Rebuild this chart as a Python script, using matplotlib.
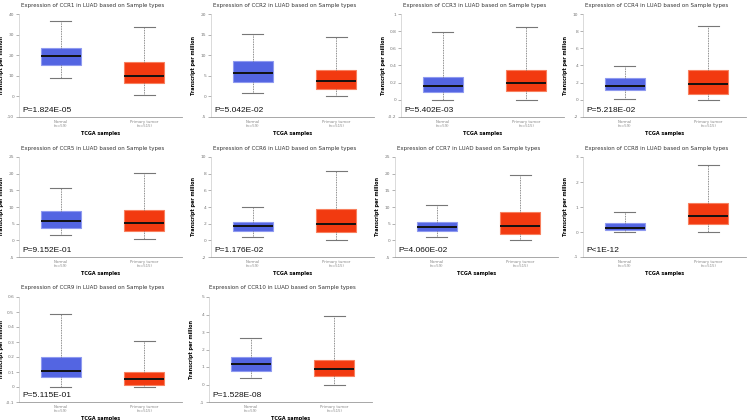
import numpy as np
import matplotlib
matplotlib.use("Agg")
import matplotlib.pyplot as plt

# ---- data (transcript per million) ----
genes = ["CCR1", "CCR2", "CCR3", "CCR4", "CCR5",
         "CCR6", "CCR7", "CCR8", "CCR9", "CCR10"]
pvals = ["P=1.824E-05", "P=5.042E-02", "P=5.402E-03", "P=5.218E-02", "P=9.152E-01",
         "P=1.176E-02", "P=4.060E-02", "P<1E-12", "P=5.115E-01", "P=1.528E-08"]

# [whislo, q1, median, q3, whishi]
normal_stats = [
    [9.0, 15.2, 19.8, 23.7, 36.7],
    [0.9, 3.5, 5.7, 8.6, 15.2],
    [0.0, 0.093, 0.163, 0.27, 0.787],
    [0.15, 1.13, 1.6, 2.53, 3.98],
    [1.6, 3.8, 5.7, 8.7, 15.8],
    [0.43, 1.18, 1.7, 2.25, 3.96],
    [1.06, 2.75, 4.1, 5.4, 10.5],
    [0.0, 0.07, 0.18, 0.38, 0.79],
    [0.0, 0.065, 0.108, 0.198, 0.485],
    [0.35, 0.76, 1.19, 1.57, 2.64],
]
tumor_stats = [
    [0.9, 6.4, 9.7, 16.7, 33.6],
    [0.15, 1.9, 3.7, 6.4, 14.3],
    [0.0, 0.105, 0.195, 0.343, 0.847],
    [0.03, 0.7, 1.79, 3.47, 8.63],
    [0.27, 2.85, 5.1, 9.1, 20.1],
    [0.03, 1.02, 1.97, 3.72, 8.37],
    [0.07, 2.05, 4.2, 8.5, 19.6],
    [0.0, 0.34, 0.66, 1.17, 2.7],
    [0.0, 0.015, 0.051, 0.10, 0.304],
    [0.0, 0.51, 0.88, 1.42, 3.89],
]

# y axis: (min, max, step)
yaxes = [(-10, 40, 10), (-5, 20, 5), (-0.2, 1, 0.2), (-2, 10, 2), (-5, 25, 5),
         (-2, 10, 2), (-5, 25, 5), (-1, 3, 1), (-0.1, 0.6, 0.1), (-1, 5, 1)]

group_labels = ["Normal\n(n=59)", "Primary tumor\n(n=515)"]

# ---- layout in pixels: left, top, bottom of each axes ----
W, H = 753, 420
lefts = [19, 211, 401, 583, 19, 211, 395, 583, 19, 209]
tops = [14] * 4 + [157] * 4 + [297] * 2
bottoms = [117] * 4 + [257] * 4 + [402] * 2
axw = 163

blue, blue_edge = "#5365E2", "#8F9AF0"
red, red_edge = "#F23A10", "#F8805F"

fig = plt.figure(figsize=(W / 100, H / 100), dpi=100)

for i, g in enumerate(genes):
    l, t, b = lefts[i], tops[i], bottoms[i]
    ax = fig.add_axes([l / W, 1 - b / H, axw / W, (b - t) / H])

    stats = []
    for s, lab in zip([normal_stats[i], tumor_stats[i]], group_labels):
        stats.append(dict(whislo=s[0], q1=s[1], med=s[2], q3=s[3], whishi=s[4],
                          label=lab, fliers=[]))
    bp = ax.bxp(stats, positions=[1, 2], widths=0.48, capwidths=0.25,
                patch_artist=True, showfliers=False,
                medianprops=dict(color="#111111", linewidth=1.4),
                whiskerprops=dict(color="#666666", linewidth=0.6, linestyle=(0, (1, 1))),
                capprops=dict(color="#777777", linewidth=0.8))
    for box, fc, ec in zip(bp["boxes"], [blue, red], [blue_edge, red_edge]):
        box.set_facecolor(fc)
        box.set_edgecolor(ec)
        box.set_linewidth(0.8)

    lo, hi, step = yaxes[i]
    ticks = np.arange(lo, hi + step / 2, step)
    ax.set_ylim(lo, hi)
    ax.set_yticks(ticks)
    ax.set_yticklabels(["%g" % round(v, 2) for v in ticks])
    ax.set_xlim(0.5, 2.45)

    for sp in ["top", "right"]:
        ax.spines[sp].set_visible(False)
    ax.spines["left"].set_color("#cccccc")
    ax.spines["left"].set_linewidth(0.5)
    ax.spines["bottom"].set_color("#999999")
    ax.spines["bottom"].set_linewidth(0.6)
    ax.tick_params(axis="y", labelsize=3.2, colors="#777777", length=2, width=0.4, pad=1.5)
    ax.tick_params(axis="x", labelsize=2.8, colors="#888888", length=0, pad=2)
    for lbl in ax.get_xticklabels():
        lbl.set_linespacing(1.1)

    ax.set_ylabel("Transcript per million", fontsize=3.5, fontweight="bold")
    ax.yaxis.set_label_coords(-15 / axw, 0.5)
    ax.set_xlabel("TCGA samples", fontsize=3.5, fontweight="bold", labelpad=2)

    ax.text(0.02, 0.03, pvals[i], transform=ax.transAxes, ha="left", va="bottom",
            fontsize=6, family="Liberation Sans", color="#111111")

    # title centred over the panel (slightly left of axes centre)
    cx = l + axw / 2 - 8
    fig.text(cx / W, 1 - (t - 9) / H, "Expression of %s in LUAD based on Sample types" % g,
             ha="center", va="center", fontsize=4, color="#333333")

fig.savefig("out.png", dpi=100, facecolor="white")
